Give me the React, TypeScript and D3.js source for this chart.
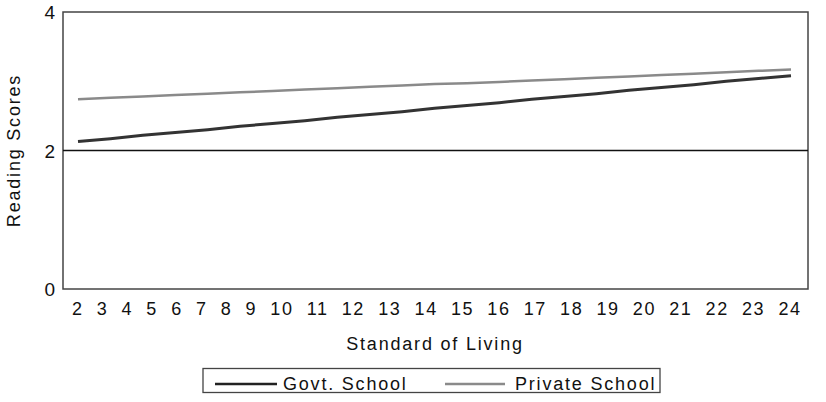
import React from "react";
import * as d3 from "d3";

const categories: number[] = [2,3,4,5,6,7,8,9,10,11,12,13,14,15,16,17,18,19,20,21,22,23,24];
const govtSchool: number[] = [2.13,2.17,2.22,2.26,2.30,2.35,2.39,2.43,2.48,2.52,2.56,2.61,2.65,2.69,2.74,2.78,2.82,2.87,2.91,2.95,3.00,3.04,3.08];
const privateSchool: number[] = [2.74,2.76,2.78,2.80,2.82,2.84,2.86,2.88,2.90,2.92,2.94,2.96,2.97,2.99,3.01,3.03,3.05,3.07,3.09,3.11,3.13,3.15,3.17];
const yTicks: number[] = [0, 2, 4];
const seriesNames: string[] = ["Govt. School", "Private School"];

const W = 826, H = 402;
const plot = { left: 63, right: 808, top: 12, bottom: 289 };
const font = "'Liberation Sans', Arial, Helvetica, sans-serif";
const ls = 1.8;

export default function App() {
  const x = d3.scaleLinear().domain([2, 24]).range([78, 791]);
  const y = d3.scaleLinear().domain([0, 4]).range([plot.bottom, plot.top]);
  const line = d3.line<number>().x((_, i) => x(categories[i])).y((d) => y(d));

  const labelStr = categories.join("\u00A0\u00A0");

  return (
    <svg width={W} height={H} style={{ position: "absolute", left: 0, top: 0, background: "#fff" }}>
      <rect x={plot.left} y={plot.top} width={plot.right - plot.left} height={plot.bottom - plot.top}
        fill="none" stroke="#444" strokeWidth={1.5} />
      <line x1={plot.left} x2={plot.right} y1={y(2)} y2={y(2)} stroke="#111" strokeWidth={1.3} />
      {yTicks.map((t) => (
        <text key={t} x={55} y={y(t)} dy="0.38em" textAnchor="end" fontFamily={font} fontSize={19} fill="#111">{t}</text>
      ))}
      <text x={72} y={315} textLength={728} lengthAdjust="spacing" fontFamily={font} fontSize={18} fill="#111">{labelStr}</text>
      <text x={435} y={350} textAnchor="middle" fontFamily={font} fontSize={18} letterSpacing={ls} fill="#111">Standard of Living</text>
      <text transform={`translate(20,${(plot.top + plot.bottom) / 2}) rotate(-90)`} textAnchor="middle"
        fontFamily={font} fontSize={18} letterSpacing={ls} fill="#111">Reading Scores</text>
      <path d={line(privateSchool) || ""} fill="none" stroke="#8a8a8a" strokeWidth={2.5} />
      <path d={line(govtSchool) || ""} fill="none" stroke="#333" strokeWidth={3} />
      <rect x={203} y={368.5} width={457} height={24} fill="#fff" stroke="#444" strokeWidth={1.3} />
      <line x1={215} x2={277} y1={384} y2={384} stroke="#222" strokeWidth={2.5} />
      <text x={283} y={390} fontFamily={font} fontSize={18} letterSpacing={ls} fill="#111">{seriesNames[0]}</text>
      <line x1={445} x2={505} y1={384} y2={384} stroke="#8a8a8a" strokeWidth={2.5} />
      <text x={515} y={390} fontFamily={font} fontSize={18} letterSpacing={ls} fill="#111">{seriesNames[1]}</text>
    </svg>
  );
}
